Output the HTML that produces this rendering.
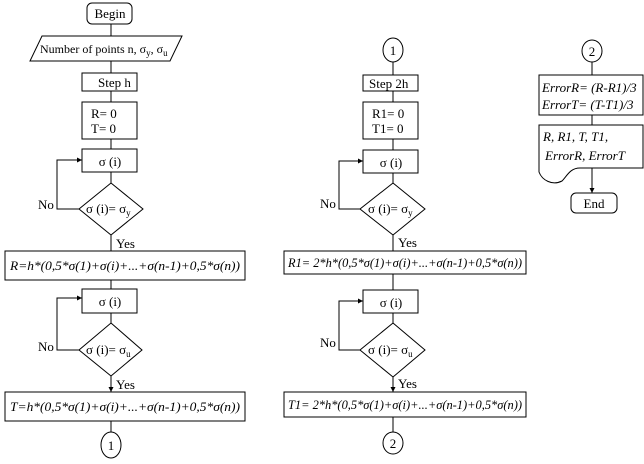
<!DOCTYPE html>
<html><head><style>
body{margin:0;background:#fff}
svg{display:block}
text{font-family:"Liberation Serif",serif;font-size:13px;fill:#000}
.i{font-style:italic}
</style></head><body>
<svg width="644" height="464" viewBox="0 0 644 464" xmlns="http://www.w3.org/2000/svg">
<defs><marker id="a" markerWidth="6" markerHeight="6" refX="5" refY="3" orient="auto"><path d="M0,0.5 L5,3 L0,5.5z" fill="#000"/></marker></defs>
<g fill="none" stroke="#000" stroke-width="1">
<rect x="87" y="3" width="45" height="21" rx="5"/>
<polygon points="42,36 182,36 170,61 30,61"/>
<rect x="82" y="73" width="55" height="18"/>
<rect x="82" y="102" width="55" height="37"/>
<rect x="82" y="149" width="55" height="23"/>
<polygon points="111,183 143,209 111,235 79,209"/>
<rect x="5" y="251" width="240" height="29"/>
<rect x="82" y="289" width="55" height="24"/>
<polygon points="111,323 142,350 111,376 79,350"/>
<rect x="5" y="392" width="240" height="29"/>
<ellipse cx="111" cy="445" rx="10" ry="13"/>
<path d="M111,24V36M111,61V73M111,91V102M111,139V149M111,172V183M111,235V251M111,280V289M111,313V323M111,376V392" marker-end="url(#a)"/>
<path d="M111,421V432"/>
<path d="M79,209H57V160H82" marker-end="url(#a)"/>
<path d="M79,350H57V298H82" marker-end="url(#a)"/>
<ellipse cx="393" cy="50" rx="10" ry="12"/>
<rect x="363" y="75" width="55" height="16"/>
<rect x="363" y="102" width="55" height="37"/>
<rect x="363" y="150" width="55" height="23"/>
<polygon points="393,183 425,209 393,235 360,209"/>
<rect x="284" y="251" width="242" height="23"/>
<rect x="363" y="290" width="55" height="23"/>
<polygon points="393,323 425,350 393,377 360,350"/>
<rect x="284" y="392" width="242" height="25"/>
<ellipse cx="393" cy="443" rx="10" ry="11"/>
<path d="M393,62V75M393,91V102M393,139V150M393,173V183M393,235V251M393,274V290M393,313V323M393,377V392" marker-end="url(#a)"/>
<path d="M393,417V432"/>
<path d="M360,209H339V161H363" marker-end="url(#a)"/>
<path d="M360,350H339V301H363" marker-end="url(#a)"/>
<ellipse cx="592" cy="51" rx="10" ry="11"/>
<rect x="539" y="75" width="104" height="40"/>
<path d="M539,125H643V168H580C570,168 567,176 562,181C552,186 542,180 539,172Z"/>
<rect x="571" y="193" width="46" height="20" rx="5"/>
<path d="M592,62V75M592,115V125M592,168V193" marker-end="url(#a)"/>
</g>
<text x="40" y="53" style="font-size:12px">Number of points n, σ<tspan style="font-size:9px" dy="3">y</tspan><tspan dy="-3">, σ</tspan><tspan style="font-size:9px" dy="3">u</tspan></text>
<text x="110" y="18" text-anchor="middle">Begin</text>
<text x="98" y="87">Step h</text>
<text x="91" y="118">R= 0</text>
<text x="91" y="133">T= 0</text>
<text x="110" y="166" text-anchor="middle">σ (i)</text>
<text x="86" y="213">σ (i)= σ<tspan style="font-size:9px" dy="3">y</tspan></text>
<text x="38" y="209">No</text>
<text x="116" y="248">Yes</text>
<text x="10" y="270" class="i" textLength="230" lengthAdjust="spacingAndGlyphs">R=h*(0,5*σ(1)+σ(i)+...+σ(n-1)+0,5*σ(n))</text>
<text x="110" y="306" text-anchor="middle">σ (i)</text>
<text x="86" y="354">σ (i)= σ<tspan style="font-size:9px" dy="3">u</tspan></text>
<text x="38" y="351">No</text>
<text x="116" y="389">Yes</text>
<text x="10" y="411" class="i" textLength="230" lengthAdjust="spacingAndGlyphs">T=h*(0,5*σ(1)+σ(i)+...+σ(n-1)+0,5*σ(n))</text>
<text x="111" y="450" text-anchor="middle">1</text>
<text x="393" y="55" text-anchor="middle">1</text>
<text x="369" y="88">Step  2h</text>
<text x="372" y="118">R1= 0</text>
<text x="372" y="133">T1= 0</text>
<text x="391" y="167" text-anchor="middle">σ (i)</text>
<text x="368" y="213">σ (i)= σ<tspan style="font-size:9px" dy="3">y</tspan></text>
<text x="320" y="208">No</text>
<text x="398" y="247">Yes</text>
<text x="288" y="267" class="i" textLength="234" lengthAdjust="spacingAndGlyphs">R1= 2*h*(0,5*σ(1)+σ(i)+...+σ(n-1)+0,5*σ(n))</text>
<text x="391" y="307" text-anchor="middle">σ (i)</text>
<text x="368" y="354">σ (i)= σ<tspan style="font-size:9px" dy="3">u</tspan></text>
<text x="320" y="347">No</text>
<text x="398" y="388">Yes</text>
<text x="288" y="409" class="i" textLength="234" lengthAdjust="spacingAndGlyphs">T1= 2*h*(0,5*σ(1)+σ(i)+...+σ(n-1)+0,5*σ(n))</text>
<text x="393" y="448" text-anchor="middle">2</text>
<text x="592" y="56" text-anchor="middle">2</text>
<text x="542" y="92" class="i">ErrorR= (R-R1)/3</text>
<text x="542" y="109" class="i">ErrorT= (T-T1)/3</text>
<text x="543" y="141" class="i">R, R1, T, T1,</text>
<text x="545" y="160" class="i">ErrorR, ErrorT</text>
<text x="594" y="208" text-anchor="middle">End</text>
</svg>
</body></html>
